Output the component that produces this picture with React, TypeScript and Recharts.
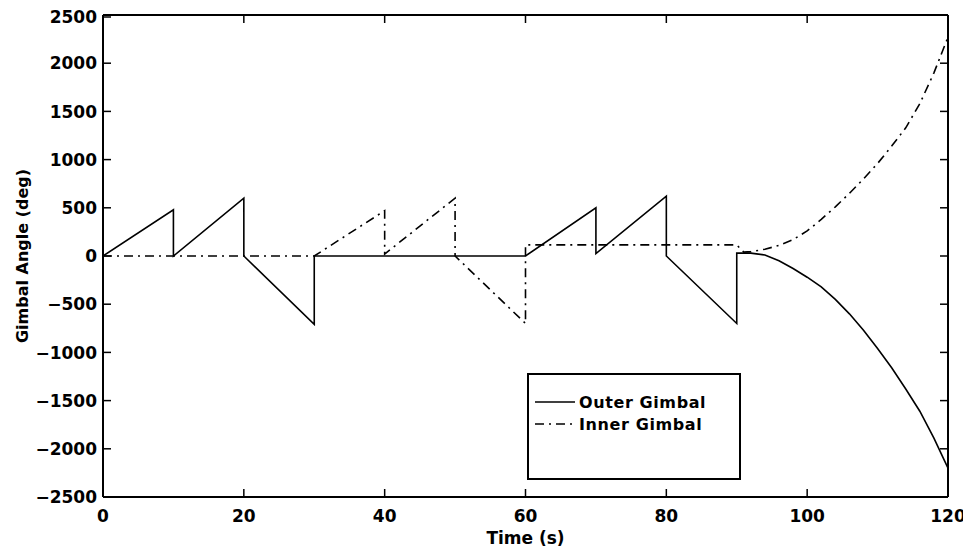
import { Legend, Line, LineChart, XAxis, YAxis } from 'recharts';

// Outer gimbal (solid): sawtooth resets, then runs away after t = 90 s
const outerTime = [0, 10, 10, 20, 20, 30, 30, 60, 70, 70, 80, 80, 90, 90, 92, 94, 96, 98, 100, 102, 104, 106, 108, 110, 112, 114, 116, 118, 120];
const outerAngle = [0, 480, 0, 600, 0, -710, 0, 0, 500, 25, 620, 0, -700, 30, 30, 10, -50, -130, -220, -320, -450, -600, -770, -960, -1160, -1380, -1610, -1890, -2200];

// Inner gimbal (dash-dot)
const innerTime = [0, 30, 40, 40, 50, 50, 60, 60, 90, 91, 92, 94, 96, 98, 100, 102, 104, 106, 108, 110, 112, 114, 116, 118, 120];
const innerAngle = [0, 0, 470, 20, 600, 0, -700, 115, 115, 40, 45, 70, 110, 170, 260, 380, 510, 650, 800, 960, 1140, 1330, 1580, 1900, 2270];

const timeTicks = [0, 20, 40, 60, 80, 100, 120];
const angleTicks = [-2500, -2000, -1500, -1000, -500, 0, 500, 1000, 1500, 2000, 2500];
const seriesNames = ['Outer Gimbal', 'Inner Gimbal'];

const outerData = outerTime.map((t, i) => ({ t, v: outerAngle[i] }));
const innerData = innerTime.map((t, i) => ({ t, v: innerAngle[i] }));

const FONT = '"DejaVu Sans", "Liberation Sans", sans-serif';
const DASH_DOT = '9 5 2 5';
const dashFor: Record<string, string | undefined> = {
  'Outer Gimbal': undefined,
  'Inner Gimbal': DASH_DOT,
};

const tickStyle = { fill: '#000', fontSize: 17, fontWeight: 'bold', fontFamily: FONT };
const minus = (v: number) => String(v).replace('-', '\u2212');
const axisLine = { stroke: '#000', strokeWidth: 2 };
const tickLine = { stroke: '#000', strokeWidth: 1.5 };
const TICK_IN = 8;
const Y_GAP = 6;
const X_GAP = 13;

// labels outside, tick marks pointing into the plot (MATLAB style)
function LeftTick({ x, y, payload }: any) {
  return (
    <g>
      <line x1={x + Y_GAP} x2={x + Y_GAP + TICK_IN} y1={y} y2={y} {...tickLine} />
      <text x={x} y={y} dy="0.36em" textAnchor="end" style={tickStyle}>
        {minus(payload.value)}
      </text>
    </g>
  );
}

function BottomTick({ x, y, payload }: any) {
  return (
    <g>
      <line x1={x} x2={x} y1={y - X_GAP} y2={y - X_GAP - TICK_IN} {...tickLine} />
      <text x={x} y={y} dy="0.73em" textAnchor="middle" style={tickStyle}>
        {payload.value}
      </text>
    </g>
  );
}

function GimbalLegend({ payload }: any) {
  // keep MATLAB's order (outer first), Recharts sorts by name otherwise
  const items = [...(payload ?? [])].sort(
    (a: any, b: any) => seriesNames.indexOf(a.value) - seriesNames.indexOf(b.value),
  );
  return (
    <div
      style={{
        width: 214,
        height: 107,
        boxSizing: 'border-box',
        border: '2px solid #000',
        background: '#fff',
        paddingTop: 16,
        fontFamily: FONT,
        fontWeight: 'bold',
        fontSize: 16,
        color: '#000',
      }}
    >
      {items.map((p: any) => (
        <div key={p.value} style={{ display: 'flex', alignItems: 'center', height: 22 }}>
          <svg width={40} height={10} style={{ marginLeft: 6 }}>
            <line x1={0} x2={40} y1={5} y2={5} stroke="#000" strokeWidth={1.5} strokeDasharray={dashFor[p.value]} />
          </svg>
          <span style={{ marginLeft: 4, letterSpacing: 0.6 }}>{p.value}</span>
        </div>
      ))}
    </div>
  );
}

export default function App() {
  return (
    <div style={{ width: 963, height: 548 }}>
      <LineChart width={963} height={548} margin={{ top: 7, right: 23, bottom: 9, left: 0 }}>
        <XAxis
          xAxisId="x"
          type="number"
          dataKey="t"
          domain={[0, 120]}
          ticks={timeTicks}
          allowDataOverflow
          height={50}
          tickSize={0}
          tickMargin={X_GAP}
          tick={<BottomTick />}
          axisLine={axisLine}
          tickLine={false}
          label={{ value: 'Time (s)', position: 'insideBottom', offset: 3, style: tickStyle }}
        />
        {/* mirrored copies close the box, with inward ticks */}
        <XAxis
          xAxisId="top"
          orientation="top"
          type="number"
          dataKey="t"
          domain={[0, 120]}
          ticks={timeTicks}
          allowDataOverflow
          mirror
          tickSize={TICK_IN}
          tickFormatter={() => ''}
          axisLine={axisLine}
          tickLine={tickLine}
        />
        <YAxis
          yAxisId="y"
          type="number"
          domain={[-2500, 2500]}
          ticks={angleTicks}
          allowDataOverflow
          width={95}
          tickSize={0}
          tickMargin={Y_GAP}
          tick={<LeftTick />}
          axisLine={axisLine}
          tickLine={false}
          label={{
            value: 'Gimbal Angle (deg)',
            angle: -90,
            position: 'insideLeft',
            offset: 14,
            style: { ...tickStyle, fontSize: 16, textAnchor: 'middle' },
          }}
        />
        <YAxis
          yAxisId="right"
          orientation="right"
          type="number"
          domain={[-2500, 2500]}
          ticks={angleTicks}
          allowDataOverflow
          mirror
          tickSize={TICK_IN}
          tickFormatter={() => ''}
          axisLine={axisLine}
          tickLine={tickLine}
        />
        <Legend
          layout="horizontal"
          verticalAlign="middle"
          align="center"
          content={<GimbalLegend />}
          wrapperStyle={{ position: 'absolute', left: 519, top: 365, width: 214, height: 107 }}
        />
        <Line
          xAxisId="x"
          yAxisId="y"
          data={outerData}
          dataKey="v"
          name="Outer Gimbal"
          type="linear"
          stroke="#000"
          strokeWidth={1.6}
          dot={false}
          activeDot={false}
          isAnimationActive={false}
        />
        <Line
          xAxisId="top"
          yAxisId="right"
          data={innerData}
          dataKey="v"
          name="Inner Gimbal"
          type="linear"
          stroke="#000"
          strokeWidth={1.6}
          strokeDasharray={DASH_DOT}
          dot={false}
          activeDot={false}
          isAnimationActive={false}
        />
      </LineChart>
    </div>
  );
}
